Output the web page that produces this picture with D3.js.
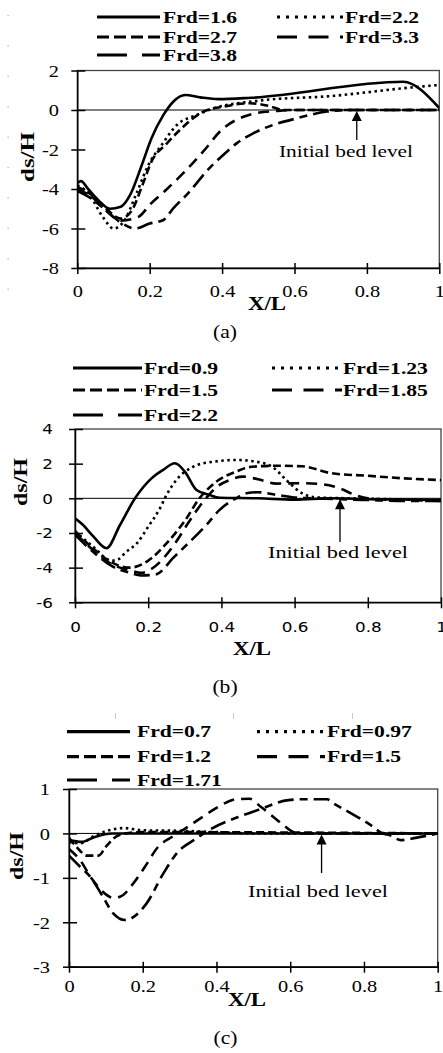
<!DOCTYPE html>
<html>
<head>
<meta charset="utf-8">
<script src="https://cdn.jsdelivr.net/npm/d3@7"></script>
<style>
  body { margin: 0; background: #fff; }
  svg { display: block; }
</style>
</head>
<body>
<svg id="chart" width="443" height="1053"></svg>
<script>
// ---------- shared tick values ----------
const xTicks = [0, 0.2, 0.4, 0.6, 0.8, 1];
const yTicksA = [-8, -6, -4, -2, 0, 2];
const yTicksB = [-6, -4, -2, 0, 2, 4];
const yTicksC = [-3, -2, -1, 0, 1];

// ---------- panel (a) : scour profiles, [X/L, ds/H] ----------
const legendA = ["Frd=1.6", "Frd=2.2", "Frd=2.7", "Frd=3.3", "Frd=3.8"];
const a16 = [[0,-3.7],[0.01,-3.6],[0.03,-4.0],[0.06,-4.6],[0.09,-5.0],[0.12,-4.9],[0.146,-4.3],[0.178,-2.8],[0.205,-1.43],[0.238,-0.25],[0.265,0.42],[0.298,0.76],[0.34,0.64],[0.39,0.55],[0.48,0.62],[0.9,1.43],[1.0,0.1]];
const a22 = [[0,-3.8],[0.03,-4.2],[0.07,-5.4],[0.1,-6.0],[0.13,-5.6],[0.164,-4.2],[0.196,-2.8],[0.233,-1.77],[0.275,-0.76],[0.33,-0.25],[0.376,0.08],[0.496,0.46],[0.71,0.72],[0.9,1.1],[1.0,1.27]];
const a27 = [[0,-3.9],[0.04,-4.3],[0.08,-5.0],[0.12,-5.5],[0.15,-5.1],[0.18,-3.8],[0.205,-2.6],[0.247,-1.7],[0.284,-1.0],[0.348,-0.08],[0.403,0.17],[0.477,0.34],[0.53,0.2],[0.57,0.0],[1.0,0.0]];
const a33 = [[0,-4.0],[0.04,-4.4],[0.08,-5.1],[0.12,-5.6],[0.17,-5.4],[0.2,-4.8],[0.242,-4.1],[0.298,-3.1],[0.348,-2.1],[0.399,-1.0],[0.459,-0.34],[0.49,-0.17],[0.55,-0.05],[0.6,0],[1.0,0]];
const a38 = [[0,-4.1],[0.04,-4.5],[0.08,-5.1],[0.12,-5.7],[0.16,-6.0],[0.2,-5.75],[0.238,-5.57],[0.265,-4.98],[0.307,-4.2],[0.357,-3.1],[0.403,-2.28],[0.44,-1.69],[0.486,-1.18],[0.54,-0.76],[0.59,-0.5],[0.69,-0.08],[0.75,0],[1.0,0]];

// ---------- panel (b) ----------
const legendB = ["Frd=0.9", "Frd=1.23", "Frd=1.5", "Frd=1.85", "Frd=2.2"];
const b09 = [[0,-1.15],[0.02,-1.5],[0.05,-2.2],[0.086,-2.88],[0.123,-1.54],[0.164,0],[0.209,1.15],[0.24,1.63],[0.273,2.02],[0.3,1.54],[0.332,0.48],[0.368,0.19],[0.395,0.03],[0.5,0],[0.6,-0.08],[0.7,0],[0.8,-0.05],[1.0,-0.1]];
const b123 = [[0,-1.9],[0.05,-2.8],[0.1,-3.6],[0.12,-3.5],[0.136,-3.17],[0.173,-2.5],[0.2,-1.64],[0.232,-0.58],[0.25,0.19],[0.277,1.06],[0.323,1.82],[0.377,2.11],[0.441,2.21],[0.496,2.11],[0.54,1.8],[0.58,1.0],[0.62,0.3],[0.66,0.05],[0.75,0],[1.0,-0.1]];
const b15 = [[0,-1.9],[0.05,-2.9],[0.1,-3.7],[0.15,-4.0],[0.2,-3.6],[0.25,-2.6],[0.3,-1.3],[0.34,0],[0.386,0.96],[0.44,1.54],[0.482,1.82],[0.55,1.88],[0.62,1.85],[0.7,1.45],[0.8,1.3],[0.9,1.15],[1.0,1.05]];
const b185 = [[0,-2.0],[0.05,-3.0],[0.1,-3.8],[0.15,-4.15],[0.18,-4.3],[0.22,-3.9],[0.27,-2.7],[0.31,-1.4],[0.35,-0.2],[0.39,0.7],[0.423,1.06],[0.459,1.25],[0.5,1.1],[0.55,0.85],[0.62,0.87],[0.68,0.8],[0.72,0.6],[0.77,0.15],[0.8,0],[0.9,-0.1],[1.0,-0.15]];
const b22 = [[0,-2.1],[0.05,-3.1],[0.1,-3.9],[0.15,-4.3],[0.18,-4.45],[0.22,-4.4],[0.27,-3.4],[0.314,-2.5],[0.359,-1.54],[0.395,-0.67],[0.44,0],[0.468,0.29],[0.5,0.35],[0.55,0.2],[0.6,0.05],[0.65,0],[0.8,-0.1],[0.9,-0.15],[1.0,-0.15]];

// ---------- panel (c) ----------
const legendC = ["Frd=0.7", "Frd=0.97", "Frd=1.2", "Frd=1.5", "Frd=1.71"];
const c07 = [[0,-0.15],[0.035,-0.19],[0.07,-0.08],[0.116,0],[0.3,0],[0.6,0],[1,0]];
const c097 = [[0,-0.2],[0.03,-0.22],[0.07,-0.05],[0.1,0.05],[0.15,0.12],[0.2,0.07],[0.3,0.06],[0.4,0.03],[0.5,0],[1,0]];
const c12 = [[0,-0.1],[0.02,-0.3],[0.05,-0.5],[0.08,-0.5],[0.1,-0.3],[0.12,-0.12],[0.15,0],[0.2,0.03],[1,0]];
const c15 = [[0,-0.35],[0.03,-0.6],[0.06,-1.0],[0.09,-1.3],[0.12,-1.45],[0.14,-1.42],[0.175,-1.12],[0.206,-0.75],[0.242,-0.3],[0.279,-0.08],[0.315,0.11],[0.369,0.41],[0.405,0.6],[0.455,0.77],[0.49,0.78],[0.52,0.6],[0.577,0.22],[0.6,0.07],[0.62,0],[1,0]];
const c171 = [[0,-0.5],[0.03,-0.75],[0.06,-1.0],[0.09,-1.4],[0.12,-1.8],[0.152,-1.95],[0.21,-1.58],[0.256,-0.9],[0.292,-0.45],[0.346,-0.11],[0.387,0.11],[0.459,0.37],[0.51,0.52],[0.595,0.75],[0.64,0.77],[0.7,0.77],[0.717,0.68],[0.757,0.49],[0.825,0.15],[0.85,0.0],[0.87,-0.04],[0.9,-0.15],[0.94,-0.1],[1,0]];

// position of the "Initial bed level" arrow on each panel (X/L)
const bedLevelX = [0.772, 0.724, 0.685];

// ---------- line styles ----------
const lineStyles = {
  solid:     { plot: null,        legend: null },
  dot:       { plot: "2.5,3.5",   legend: "3,6" },
  dash:      { plot: "8,4",       legend: "12,5" },
  long:      { plot: "11,7",      legend: "20,11.5" },
  longShort: { plot: "16,6,8,6",  legend: "30,15" }
};
const styleOrder = ["solid", "dot", "dash", "long", "longShort"];

const SERIF = "'Liberation Serif','Times New Roman',Times,serif";
const SANS = "'DejaVu Sans',Verdana,sans-serif";
const SX = 1.2;

const svg = d3.select("#chart");

function label(g, s, x, y, o) {
  const t = g.append("text").text(s)
    .attr("transform", `translate(${x},${y}) scale(${o.sx || SX},1)`)
    .attr("font-family", o.family || SERIF)
    .attr("font-size", o.size)
    .attr("font-weight", o.weight || "normal")
    .attr("text-anchor", o.anchor || "start")
    .attr("fill", "#000");
  return t;
}

function panel(p) {
  const g = svg.append("g");
  const x = d3.scaleLinear().domain([0, 1]).range([p.x0, p.x1]);
  const y = d3.scaleLinear().domain(p.yDomain).range([p.yBot, p.yTop]);

  // plot frame
  g.append("rect")
    .attr("x", p.x0).attr("y", p.yTop)
    .attr("width", p.x1 - p.x0).attr("height", p.yBot - p.yTop)
    .attr("fill", "none").attr("stroke", "#444").attr("stroke-width", 1.3);

  // zero (initial bed) line
  g.append("line")
    .attr("x1", x(0)).attr("x2", x(1)).attr("y1", y(0)).attr("y2", y(0))
    .attr("stroke", "#000").attr("stroke-width", 1);

  // axes
  const ax = g.append("g").attr("transform", `translate(0,${p.yBot})`)
    .call(d3.axisBottom(x).tickValues(xTicks).tickSizeOuter(0).tickFormat(d => String(d)));
  ax.select(".domain").attr("stroke", "#000").attr("stroke-width", 1.5);
  ax.selectAll(".tick line").attr("y1", -5).attr("y2", 6).attr("stroke", "#000").attr("stroke-width", 1.5);
  ax.selectAll(".tick text")
    .attr("y", null).attr("dy", null)
    .attr("transform", `translate(0,${p.xLabelBase - p.yBot}) scale(${SX},1)`)
    .attr("font-family", p.tickFamily).attr("font-size", p.tickSize).attr("fill", "#000");

  const ay = g.append("g").attr("transform", `translate(${p.x0},0)`)
    .call(d3.axisLeft(y).tickValues(p.yTicks).tickSizeOuter(0).tickFormat(d => String(d)));
  ay.select(".domain").attr("stroke", "#000").attr("stroke-width", 1.5);
  ay.selectAll(".tick line").attr("x1", -6).attr("x2", 8).attr("stroke", "#000").attr("stroke-width", 1.5);
  ay.selectAll(".tick text")
    .attr("x", null).attr("dy", "0.35em")
    .attr("transform", `translate(${p.yLabelRight - p.x0},0) scale(${SX},1)`)
    .attr("font-family", p.tickFamily).attr("font-size", p.tickSize).attr("fill", "#000");

  // profiles
  const line = d3.line().x(d => x(d[0])).y(d => y(d[1])).curve(d3.curveMonotoneX);
  const clipId = "clip" + p.id;
  g.append("clipPath").attr("id", clipId).append("rect")
    .attr("x", p.x0).attr("y", p.yTop - 2).attr("width", p.x1 - p.x0).attr("height", p.yBot - p.yTop + 4);
  p.series.forEach((s, i) => {
    g.append("path")
      .attr("d", line(s))
      .attr("clip-path", `url(#${clipId})`)
      .attr("fill", "none").attr("stroke", "#000")
      .attr("stroke-width", 2.6)
      .attr("stroke-linejoin", "round")
      .attr("stroke-dasharray", lineStyles[styleOrder[i]].plot);
  });

  // legend
  p.legend.forEach((name, i) => {
    const col = i % 2, row = Math.floor(i / 2);
    const cy = p.legRows[row];
    const [s0, s1] = p.legSample[col];
    g.append("line")
      .attr("x1", s0).attr("x2", s1).attr("y1", cy).attr("y2", cy)
      .attr("stroke", "#000").attr("stroke-width", 3.2)
      .attr("stroke-dasharray", lineStyles[styleOrder[i]].legend);
    label(g, name, p.legText[col], cy + 5.5, { size: 16, weight: "bold", sx: 1.35 });
  });

  // axis titles
  label(g, "X/L", p.xTitle[0], p.xTitle[1], { size: 19, weight: "bold", anchor: "middle" });
  g.append("text").text("ds/H")
    .attr("transform", `translate(${p.yTitle[0]},${p.yTitle[1]}) rotate(-90) scale(1,1.15)`)
    .attr("font-family", SERIF).attr("font-size", 17).attr("font-weight", "bold")
    .attr("text-anchor", "middle").attr("dy", "0.35em")
    .attr("textLength", p.yTitle[2]).attr("lengthAdjust", "spacingAndGlyphs");

  // initial bed level annotation
  const ax0 = x(p.bedX);
  g.append("line")
    .attr("x1", ax0).attr("x2", ax0).attr("y1", y(0) + 9).attr("y2", p.arrowBottom)
    .attr("stroke", "#000").attr("stroke-width", 1.3);
  g.append("path")
    .attr("d", `M${ax0},${y(0) + 1}L${ax0 - 5},${y(0) + 11}L${ax0 + 5},${y(0) + 11}Z`)
    .attr("fill", "#000");
  g.append("text").text("Initial bed level")
    .attr("x", p.annText[0]).attr("y", p.annText[1])
    .attr("font-family", SERIF).attr("font-size", 17).attr("text-anchor", "middle")
    .attr("textLength", p.annText[2]).attr("lengthAdjust", "spacingAndGlyphs");

  // caption
  label(g, p.caption, p.capPos[0], p.capPos[1], { size: 18, anchor: "middle" });
}

panel({
  id: "a", x0: 77.3, x1: 439.3, yTop: 70.5, yBot: 268, yDomain: [-8, 2], yTicks: yTicksA,
  tickFamily: SERIF, tickSize: 17, xLabelBase: 297, yLabelRight: 59,
  series: [a16, a22, a27, a33, a38],
  legend: legendA, legRows: [17, 37, 55], legSample: [[97, 160], [277, 343]], legText: [163, 345],
  xTitle: [267, 310], yTitle: [27, 157, 50],
  bedX: bedLevelX[0], arrowBottom: 140, annText: [346, 157, 134],
  caption: "(a)", capPos: [225, 338]
});

panel({
  id: "b", x0: 75, x1: 441, yTop: 429, yBot: 602.3, yDomain: [-6, 4], yTicks: yTicksB,
  tickFamily: SANS, tickSize: 14, xLabelBase: 632, yLabelRight: 53,
  series: [b09, b123, b15, b185, b22],
  legend: legendB, legRows: [368, 390, 415], legSample: [[73, 142], [272, 342]], legText: [144, 343],
  xTitle: [252, 655], yTitle: [20, 482, 48],
  bedX: bedLevelX[1], arrowBottom: 542, annText: [338, 558, 140],
  caption: "(b)", capPos: [225, 693]
});

panel({
  id: "c", x0: 69, x1: 437.7, yTop: 789, yBot: 966.7, yDomain: [-3, 1], yTicks: yTicksC,
  tickFamily: SERIF, tickSize: 17, xLabelBase: 992, yLabelRight: 50,
  series: [c07, c097, c12, c15, c171],
  legend: legendC, legRows: [731.7, 756.7, 780], legSample: [[67, 130], [257, 325]], legText: [137, 327],
  xTitle: [247, 1006], yTitle: [16, 856, 48],
  bedX: bedLevelX[2], arrowBottom: 873, annText: [318, 897, 140],
  caption: "(c)", capPos: [225.5, 1044]
});

// faint scan marks along the left margin and above the last panel
const marks = svg.append("g").attr("fill", "#aaa");
d3.range(15, 300, 30.4).forEach(v => marks.append("rect").attr("x", 7.5).attr("y", v).attr("width", 1.2).attr("height", 1.2));
[115, 233, 352].forEach(v => marks.append("rect").attr("x", v).attr("y", 713).attr("width", 1).attr("height", 6).attr("fill", "#ccc"));
</script>
</body>
</html>
